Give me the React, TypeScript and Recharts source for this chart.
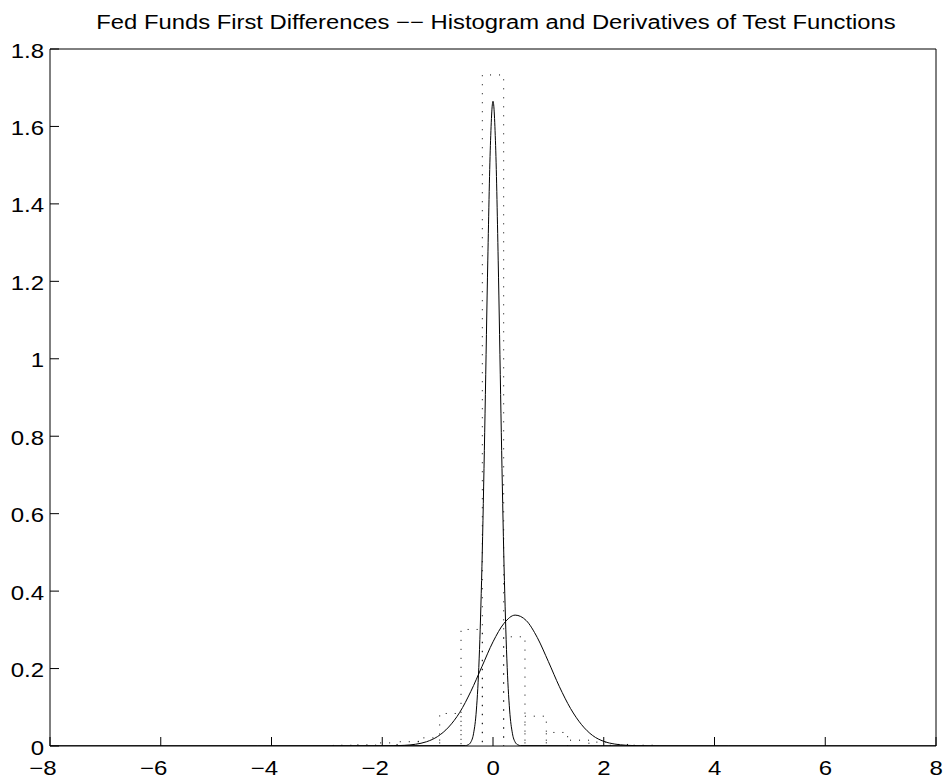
import React from "react";
import { LineChart, Line, XAxis, YAxis } from "recharts";

// axis ticks
const xTicks = [-8, -6, -4, -2, 0, 2, 4, 6, 8];
const yTicks = [0, 0.2, 0.4, 0.6, 0.8, 1, 1.2, 1.4, 1.6, 1.8];

// histogram of first differences (bin centres + heights)
const binWidth = 0.385;
const binCenters = [-2.695, -2.31, -1.925, -1.54, -1.155, -0.77, -0.385, 0, 0.385, 0.77, 1.155, 1.54, 1.925, 2.31, 2.695];
const binHeights = [0.002, 0.003, 0.008, 0.011, 0.021, 0.084, 0.301, 1.733, 0.282, 0.077, 0.035, 0.015, 0.01, 0.004, 0.002];

// narrow test function
const narrowX = [-8, -0.5, -0.45, -0.4, -0.35, -0.3, -0.25, -0.2, -0.15, -0.1, -0.05, 0, 0.05, 0.1, 0.15, 0.2, 0.25, 0.3, 0.35, 0.4, 0.45, 0.5, 8];
const narrowY = [0, 0.001, 0.003, 0.01, 0.033, 0.093, 0.225, 0.463, 0.81, 1.209, 1.537, 1.665, 1.537, 1.209, 0.81, 0.463, 0.225, 0.093, 0.033, 0.01, 0.003, 0.001, 0];

// wide test function
const wideX = [-8, -2.2, -2.0, -1.8, -1.6, -1.4, -1.2, -1.0, -0.8, -0.6, -0.4, -0.2, 0, 0.2, 0.4, 0.6, 0.8, 1.0, 1.2, 1.4, 1.6, 1.8, 2.0, 2.2, 2.4, 2.6, 2.8, 3.0, 8];
const wideY = [0, 0.0001, 0.0002, 0.0006, 0.0017, 0.0045, 0.011, 0.0245, 0.049, 0.087, 0.141, 0.205, 0.269, 0.317, 0.338, 0.324, 0.28, 0.218, 0.153, 0.097, 0.055, 0.027, 0.012, 0.005, 0.002, 0.0007, 0.0002, 0, 0];

const FONT = "'Liberation Sans', Arial, Helvetica, sans-serif";
const STRETCH = 1.2;

const histData = binCenters.flatMap((c, i) => {
  const l = c - binWidth / 2;
  const r = c + binWidth / 2;
  return [
    { x: l, y: 0 },
    { x: l, y: binHeights[i] },
    { x: r, y: binHeights[i] },
    { x: r, y: 0 },
  ];
});
const narrowData = narrowX.map((x, i) => ({ x, y: narrowY[i] }));
const wideData = wideX.map((x, i) => ({ x, y: wideY[i] }));

const XTick = (props: any) => {
  const { x, y, payload } = props;
  const v = payload.value;
  const label = v < 0 ? "\u2212" + Math.abs(v) : String(v);
  return (
    <g transform={`translate(${x},${y}) scale(${STRETCH},1)`}>
      <text x={5.6} y={0} textAnchor="end" fontSize={20} fontFamily={FONT} fill="#000">
        {label}
      </text>
    </g>
  );
};

const YTick = (props: any) => {
  const { x, y, payload } = props;
  return (
    <g transform={`translate(${x},${y}) scale(${STRETCH},1)`}>
      <text x={0} y={0} dy="0.43em" textAnchor="end" fontSize={20} fontFamily={FONT} fill="#000">
        {String(payload.value)}
      </text>
    </g>
  );
};

const blank = () => "";

const App = () => {
  return (
    <div style={{ position: "absolute", left: 0, top: 0, width: 946, height: 779, background: "#fff" }}>
      <div
        style={{
          position: "absolute",
          top: 12,
          left: 0,
          width: 992,
          textAlign: "center",
          fontFamily: FONT,
          fontSize: 20,
          lineHeight: "20px",
          whiteSpace: "nowrap",
          transform: "scaleX(1.19)",
        }}
      >
        Fed Funds First Differences −− Histogram and Derivatives of Test Functions
      </div>
      <LineChart
        width={946}
        height={779}
        margin={{ top: 48, right: 9, left: 10, bottom: 3 }}
      >
        <XAxis
          dataKey="x"
          type="number"
          domain={[-8, 8]}
          ticks={xTicks}
          allowDataOverflow
          height={30}
          tickSize={-9}
          tickMargin={38}
          tick={<XTick />}
          stroke="#000"
        />
        <XAxis
          xAxisId="top"
          orientation="top"
          type="number"
          domain={[-8, 8]}
          ticks={xTicks}
          height={1}
          tickSize={-9}
          tickFormatter={blank}
          stroke="#000"
        />
        <YAxis
          type="number"
          domain={[0, 1.8]}
          ticks={yTicks}
          allowDataOverflow
          width={40}
          tickSize={-9}
          tickMargin={15}
          tick={<YTick />}
          stroke="#000"
        />
        <YAxis
          yAxisId="right"
          orientation="right"
          type="number"
          domain={[0, 1.8]}
          ticks={yTicks}
          width={1}
          tickSize={-9}
          tickFormatter={blank}
          stroke="#000"
        />
        <Line
          data={histData}
          dataKey="y"
          type="linear"
          stroke="#000"
          strokeWidth={1}
          strokeDasharray="1 8"
          dot={false}
          isAnimationActive={false}
        />
        <Line
          data={wideData}
          dataKey="y"
          type="monotone"
          stroke="#000"
          strokeWidth={1}
          dot={false}
          isAnimationActive={false}
        />
        <Line
          data={narrowData}
          dataKey="y"
          type="monotone"
          stroke="#000"
          strokeWidth={1}
          dot={false}
          isAnimationActive={false}
        />
      </LineChart>
    </div>
  );
};

export default App;
